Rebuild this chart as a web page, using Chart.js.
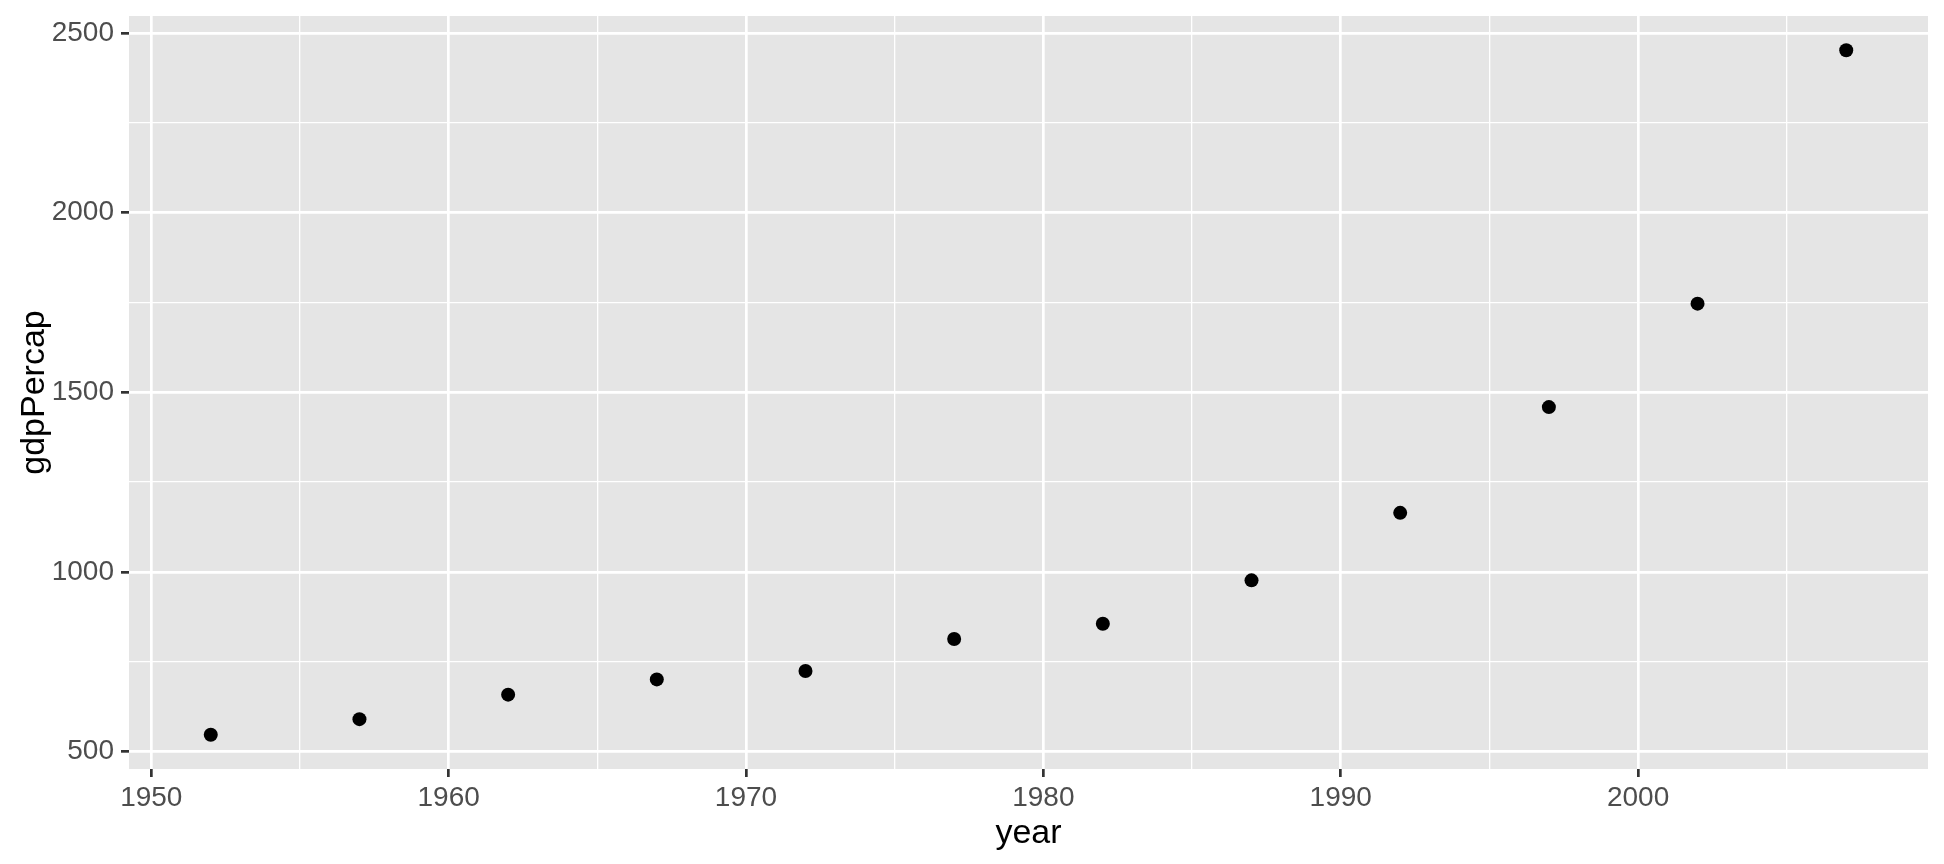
<!DOCTYPE html>
<html>
<head>
<meta charset="utf-8">
<script src="https://cdn.jsdelivr.net/npm/chart.js@4"></script>
<style>
  html, body { margin: 0; padding: 0; background: #fff; }
  #wrap { width: 1944px; height: 864px; }
</style>
</head>
<body>
<div id="wrap"><canvas id="chart" width="1944" height="864"></canvas></div>
<script>
// data (India, gapminder)
const years = [1952, 1957, 1962, 1967, 1972, 1977, 1982, 1987, 1992, 1997, 2002, 2007];
const gdpPercap = [546.6, 590.1, 658.3, 700.8, 724.0, 813.3, 855.7, 976.5, 1164.4, 1458.8, 1746.8, 2452.2];
const xTickLabels = [1950, 1960, 1970, 1980, 1990, 2000];
const yTickLabels = [500, 1000, 1500, 2000, 2500];
const xMinor = [1955, 1965, 1975, 1985, 1995, 2005];
const yMinor = [750, 1250, 1750, 2250];

const FONT = 'Liberation Sans, Arial, sans-serif';

// ggplot style expansion: 5% on each side
function expand(vals) {
  const lo = Math.min(...vals), hi = Math.max(...vals);
  const d = (hi - lo) * 0.05;
  return [lo - d, hi + d];
}
const [xMin, xMax] = expand(years);
const [yMin, yMax] = expand(gdpPercap);

const panelBg = {
  id: 'panelBg',
  beforeDraw(chart) {
    const a = chart.chartArea;
    const c = chart.ctx;
    c.save();
    c.fillStyle = '#E5E5E5';
    c.fillRect(a.left, a.top, a.right - a.left, a.bottom - a.top);
    c.restore();
  }
};

function setTicks(major, minor) {
  return function (scale) {
    scale.ticks = major.map(v => ({ value: v, major: true }))
      .concat(minor.map(v => ({ value: v, major: false })));
  };
}

const isMajor = ctx => ctx.tick && ctx.tick.major;

new Chart(document.getElementById('chart'), {
  type: 'scatter',
  data: {
    datasets: [{
      data: years.map((y, i) => ({ x: y, y: gdpPercap[i] })),
      backgroundColor: '#000000',
      borderWidth: 0,
      pointRadius: 7,
      pointHoverRadius: 7
    }]
  },
  plugins: [panelBg],
  options: {
    responsive: false,
    animation: false,
    layout: { padding: { top: 16, right: 16, left: 0, bottom: 0 } },
    plugins: { legend: { display: false }, tooltip: { enabled: false } },
    scales: {
      x: {
        type: 'linear',
        min: xMin,
        max: xMax,
        afterBuildTicks: setTicks(xTickLabels, xMinor),
        afterFit: s => {
          s.height = 95;
          s.paddingLeft = 0; s.paddingRight = 0;
        },
        border: { display: false },
        grid: {
          color: '#FFFFFF',
          lineWidth: ctx => isMajor(ctx) ? 2.7 : 1.3,
          tickColor: ctx => isMajor(ctx) ? '#333333' : 'rgba(0,0,0,0)',
          tickWidth: 2.7,
          tickLength: 8
        },
        ticks: {
          autoSkip: false,
          maxRotation: 0,
          padding: 4,
          color: '#4D4D4D',
          font: { family: FONT, size: 28 },
          callback: (v, i, ticks) => ticks[i].major ? String(v) : ''
        },
        title: {
          display: true,
          text: 'year',
          color: '#000000',
          font: { family: FONT, size: 34 },
          padding: { top: 0, bottom: 10 }
        }
      },
      y: {
        type: 'linear',
        min: yMin,
        max: yMax,
        afterBuildTicks: setTicks(yTickLabels, yMinor),
        afterFit: s => {
          s.width = 129;
          s.paddingTop = 0; s.paddingBottom = 0;
        },
        border: { display: false },
        grid: {
          color: '#FFFFFF',
          lineWidth: ctx => isMajor(ctx) ? 2.7 : 1.3,
          tickColor: ctx => isMajor(ctx) ? '#333333' : 'rgba(0,0,0,0)',
          tickWidth: 2.7,
          tickLength: 8
        },
        ticks: {
          autoSkip: false,
          padding: 7,
          color: '#4D4D4D',
          font: { family: FONT, size: 28 },
          callback: (v, i, ticks) => ticks[i].major ? String(v) : ''
        },
        title: {
          display: true,
          text: 'gdpPercap',
          color: '#000000',
          font: { family: FONT, size: 34 },
          padding: { top: 14, bottom: 0 }
        }
      }
    }
  }
});
</script>
</body>
</html>
